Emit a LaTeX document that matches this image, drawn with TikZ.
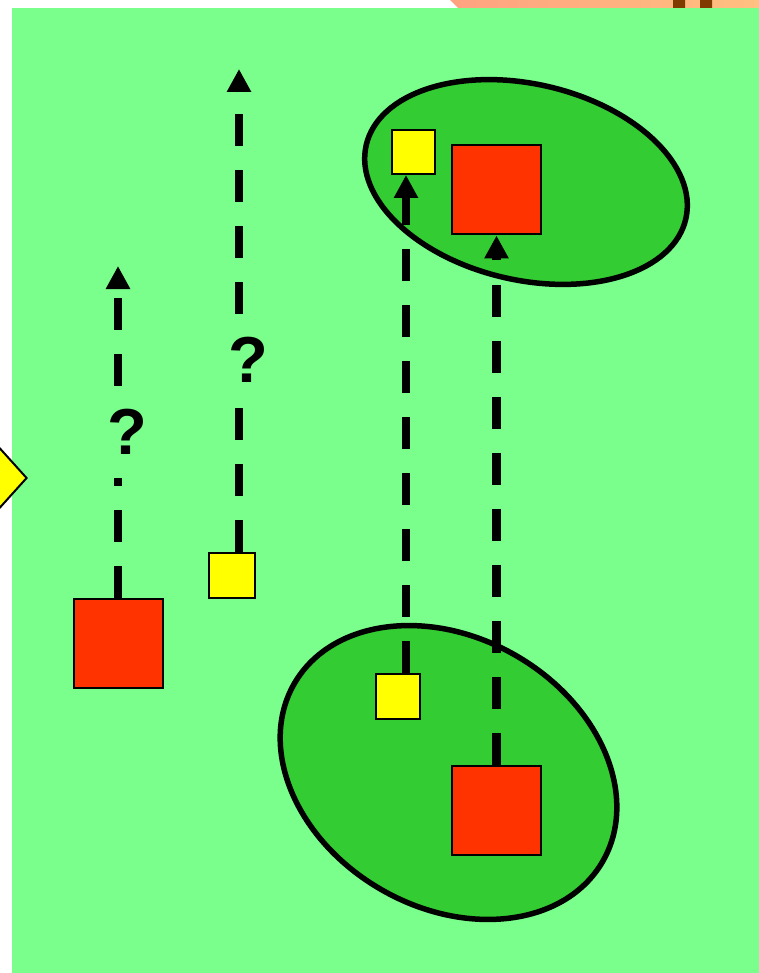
\documentclass[tikz,border=0pt]{standalone}
\usepackage{fontspec}
\setmainfont{Liberation Sans}
\usetikzlibrary{arrows.meta,shapes.geometric}
\definecolor{bggreen}{RGB}{122,255,140}
\definecolor{grpgreen}{RGB}{51,204,51}
\definecolor{boxred}{RGB}{255,51,0}
\definecolor{boxyellow}{RGB}{255,255,0}
\definecolor{peachl}{RGB}{255,162,128}
\definecolor{peachr}{RGB}{255,192,128}
\definecolor{bark}{RGB}{128,60,0}

\begin{document}
\begin{tikzpicture}[x=1pt, y=-1pt,
    redbox/.style={draw, line width=2pt, fill=boxred, minimum size=89pt, inner sep=0pt},
    yellowbox/.style={draw, line width=2pt, fill=boxyellow, minimum size=44pt, inner sep=0pt},
    group/.style={draw, ellipse, line width=5.5pt, fill=grpgreen, inner sep=0pt},
    dashlink/.style={line width=8.5pt, dash pattern=on 32pt off 24pt},
    tip/.style={-{Triangle[width=23pt,length=23pt]}},
    qmark/.style={inner sep=0pt, minimum height=92pt, font=\bfseries\fontsize{65}{65}\selectfont}]
      \useasboundingbox (0,0) rectangle (759,973);
      \fill [white] (0,0) rectangle (759,973);
      \shade [left color=peachl, right color=peachr] (450,0) -- (759,0) -- (759,8) -- (458,8) -- cycle;
      \fill [bark] (673,0) rectangle (685,8)
                   (700,0) rectangle (712,8);
      \fill [bggreen] (12,8) rectangle (759,973);
      \node (side) [draw, diamond, line width=2pt, fill=boxyellow, minimum width=74pt,
                    minimum height=82pt, inner sep=0pt] at (-10,478) {};
      % the two groups
      \node (grphi) [group, minimum width=328pt, minimum height=196pt, rotate=-13] at (526,182) {};
      \node (grplo) [group, minimum width=356pt, minimum height=270pt, rotate=-30] at (448.5,772.5) {};
      % boxes
      \node (sq1) [redbox] at (118,643) {};
      \node (ysq) [yellowbox, minimum width=46pt, minimum height=45pt] at (232,575.5) {};
      \node (yhi) [yellowbox, minimum width=43pt] at (413.5,152) {};
      \node (rhi) [redbox] at (496.5,190) {};
      \node (ylo) [yellowbox, minimum height=45pt] at (398,696.5) {};
      \node (rlo) [redbox] at (496.5,810) {};
      \node (q1) [qmark] at (127,432) {?};
      \node (q2) [qmark] at (248,360) {?};
      \coordinate (tip1) at (118,266);
      \coordinate (tip2) at (239,69);
      \draw [dashlink] (sq1.north) -- (sq1.north |- q1.south);
      \draw [dashlink, tip] (tip1 |- q1.north) -- (tip1);
      \draw [dashlink] (ysq.north -| tip2) -- (tip2 |- q2.south);
      \draw [dashlink, tip] (tip2 |- q2.north) -- (tip2);
      \draw [dashlink, tip] ([xshift=8pt]ylo.north) -- ([xshift=-7.5pt]yhi.south);
      \draw [dashlink, tip] (rlo.north) -- (rhi.south);
\end{tikzpicture}
\end{document}
